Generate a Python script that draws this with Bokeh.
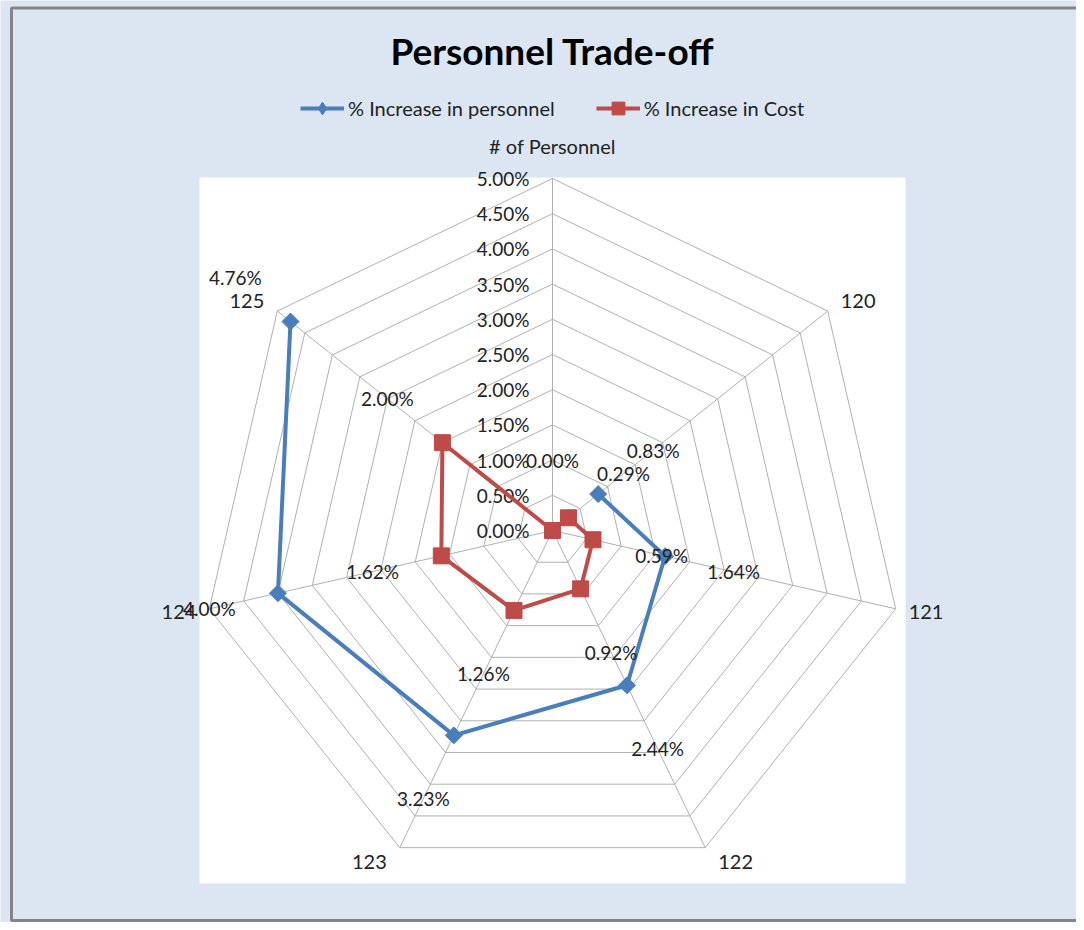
import numpy as np
from bokeh.plotting import figure
from bokeh.models import Range1d, Legend, LegendItem
from bokeh.embed import file_html
from bokeh.resources import INLINE
from bokeh.core.properties import value

# ---------------- data ----------------
categories = ["# of Personnel", "120", "121", "122", "123", "124", "125"]
pct_personnel = [np.nan, 0.83, 1.64, 2.44, 3.23, 4.00, 4.76]   # first point empty
pct_cost = [0.00, 0.29, 0.59, 0.92, 1.26, 1.62, 2.00]
ring_ticks = [0.0, 0.5, 1.0, 1.5, 2.0, 2.5, 3.0, 3.5, 4.0, 4.5, 5.0]
tick_labels = ["0.00%", "0.50%", "1.00%", "1.50%", "2.00%", "2.50%",
               "3.00%", "3.50%", "4.00%", "4.50%", "5.00%"]
series_names = ["% Increase in personnel", "% Increase in Cost"]

# ---------------- layout ----------------
W, H = 1076, 922
PX = 70.4                 # pixels per 1 % on the radial axis
CX, CY = 552, 530         # position of the radar centre
FONT = "Lato"
TXT = "#222222"
BLUE = "#4a7ebb"
RED = "#be4b48"
GRID = "#b0b0b0"


def ux(px):
    return (px - CX) / PX


def uy(py):
    return (CY - py) / PX


x_range = Range1d(ux(0), ux(W))
y_range = Range1d(uy(H), uy(0))

p = figure(width=W, height=H, x_range=x_range, y_range=y_range,
           output_backend="svg", toolbar_location=None,
           x_axis_type=None, y_axis_type=None, min_border=0,
           background_fill_color="#dce6f2", border_fill_color="#dce6f2",
           outline_line_color=None)
p.xgrid.visible = False
p.ygrid.visible = False

# chart frame
p.quad(left=ux(11), right=ux(1100), top=uy(7.5), bottom=uy(920),
       fill_color=None, line_color="#858585", line_width=3)

# plot area
rmax = ring_ticks[-1]
p.quad(left=-rmax - 0.014, right=rmax + 0.014, top=rmax + 0.014, bottom=-rmax - 0.014,
       fill_color="white", line_color=None)

n = len(categories)
theta = np.array([2 * np.pi * k / n for k in range(n)])
sx = np.sin(theta)
sy = np.cos(theta)

# rings
ring_xs, ring_ys = [], []
for t in ring_ticks[1:]:
    ring_xs.append(list(t * np.append(sx, sx[0])))
    ring_ys.append(list(t * np.append(sy, sy[0])))
p.multi_line(ring_xs, ring_ys, line_color=GRID, line_width=1)

# spokes
p.multi_line([[0, rmax * sx[k]] for k in range(n)],
             [[0, rmax * sy[k]] for k in range(n)],
             line_color=GRID, line_width=1)

# radial tick labels
p.text(x=[ux(529)] * len(ring_ticks), y=ring_ticks, text=tick_labels,
       text_align="right", text_baseline="middle",
       text_font=value(FONT), text_font_size="19px", text_color=TXT)

# category labels: anchored at the outer vertex, pushed outward
side = np.where(np.abs(sx) < 1e-6, 0, np.sign(sx))
aligns = ["center" if s == 0 else ("left" if s > 0 else "right") for s in side]
xoff = list(13 * side)
yoff = list(-(16 + 17 * (side == 0)) * sy)
for k in range(n):
    p.text(x=[rmax * sx[k]], y=[rmax * sy[k]], text=[categories[k]],
           x_offset=xoff[k], y_offset=yoff[k],
           text_align=aligns[k], text_baseline="middle",
           text_font=value(FONT), text_font_size="20px", text_color=TXT)

# series
pers = np.array(pct_personnel, dtype=float)
cost = np.array(pct_cost, dtype=float)

cx_ = np.append(cost * sx, cost[0] * sx[0])
cy_ = np.append(cost * sy, cost[0] * sy[0])
r_cost_line = p.line(cx_, cy_, line_color=RED, line_width=4)
r_cost_pts = p.scatter(cost * sx, cost * sy, marker="square", size=16,
                       fill_color=RED, line_color=RED)

px_ = np.append(pers * sx, pers[0] * sx[0])
py_ = np.append(pers * sy, pers[0] * sy[0])
r_pers_line = p.line(px_, py_, line_color=BLUE, line_width=4)
r_pers_pts = p.scatter(pers * sx, pers * sy, marker="square", size=12, angle=np.pi / 4,
                       fill_color=BLUE, line_color=BLUE)
# legend-only diamond (the legend never rotates markers)
r_pers_leg = p.scatter([np.nan], [np.nan], marker="diamond", size=14,
                       fill_color=BLUE, line_color=BLUE)

# data labels (placed 1 % further out along each spoke)
for vals in (pers, cost):
    mask = ~np.isnan(vals)
    lx = ((vals + 1.0) * sx)[mask]
    ly = ((vals + 1.0) * sy)[mask]
    labs = [f"{v:.2f}%" for v in vals[mask]]
    p.text(x=list(lx), y=list(ly), text=labs, text_align="center",
           text_baseline="middle", text_font=value(FONT),
           text_font_size="19px", text_color=TXT)

# title
p.text(x=[ux(552)], y=[uy(50)], text=["Personnel Trade-off"],
       text_align="center", text_baseline="middle",
       text_font=value(FONT), text_font_style="bold",
       text_font_size="37px", text_color="#000000")

# legend
legend = Legend(items=[LegendItem(label=series_names[0], renderers=[r_pers_line, r_pers_leg]),
                       LegendItem(label=series_names[1], renderers=[r_cost_line, r_cost_pts])],
                orientation="horizontal", location=(300, 798),
                glyph_width=44, glyph_height=32, label_standoff=4, spacing=41,
                padding=0, margin=0, background_fill_alpha=0, border_line_alpha=0,
                label_text_font=FONT, label_text_font_size="20px",
                label_text_color=TXT)
p.add_layout(legend, "center")

open("out.html", "w").write(file_html(p, INLINE))
